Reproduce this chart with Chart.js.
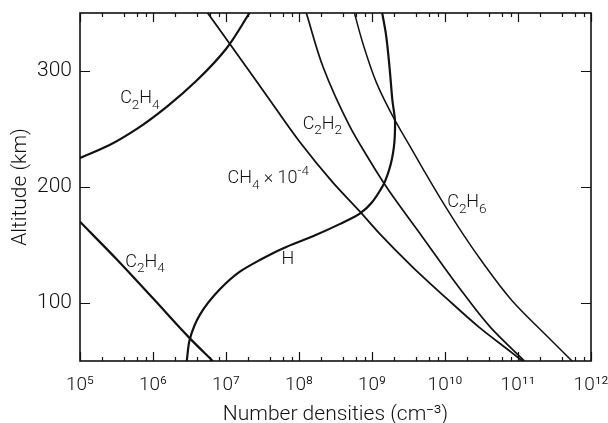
<!DOCTYPE html>
<html>
<head>
<meta charset="utf-8">
<script src="https://cdn.jsdelivr.net/npm/chart.js@4.4.1/dist/chart.umd.min.js"></script>
<style>
  body { margin: 0; background: #fff; }
  canvas { display: block; }
</style>
</head>
<body>
<canvas id="densChart" width="608" height="423"></canvas>
<script>
// Number densities vs altitude (x in cm^-3, y in km)

const FONT = 'Roboto, "Liberation Sans", sans-serif';
const INK = '#111';

// --- Data (each curve listed bottom to top) ---

const c2h4UpperN = [1.0e5, 2.5e5, 6.3e5, 1.6e6, 4.0e6, 1.0e7, 2.1e7];
const c2h4UpperAlt = [225, 236, 251, 270, 292, 319, 350];

const c2h4LowerN = [6.6e6, 3.2e6, 1.0e6, 3.2e5, 1.0e5];
const c2h4LowerAlt = [50, 69.5, 104, 137.5, 170];

const hN = [2.9e6, 3.2e6, 4.4e6, 8.3e6, 1.55e7, 2.9e7, 6.0e7, 1.55e8, 3.6e8, 6.8e8,
            1.35e9, 1.74e9, 2.0e9, 2.07e9, 1.9e9, 1.74e9, 1.55e9, 1.38e9];
const hAlt = [50, 69, 90, 112, 127, 137, 147, 157.5, 168, 177,
              199, 216, 235, 255, 275, 303, 332, 350];

const ch4N = [1.15e11, 8.3e10, 2.95e10, 1.05e10, 3.6e9, 1.26e9, 6.8e8, 2.9e8, 1.02e8, 3.5e7, 1.17e7, 5.6e6];
const ch4Alt = [50, 57, 79, 104, 131, 160, 179, 204, 239, 280, 322, 350];

const c2h2N = [1.23e11, 4.2e10, 1.45e10, 4.9e9, 2.2e9, 1.4e9, 8.3e8, 4.9e8, 2.15e8, 1.26e8];
const c2h2Alt = [50, 79, 116, 157, 187, 205, 228, 253, 303, 350];

const c2h6N = [5.5e11, 2.45e11, 8.3e10, 2.95e10, 1.74e10, 8.7e9, 4.9e9, 2.8e9, 2.04e9, 1.15e9, 7.4e8, 5.75e8];
const c2h6Alt = [50, 72, 102, 139, 160, 190, 216.5, 243, 258, 290, 325, 350];

const xTickExps = [5, 6, 7, 8, 9, 10, 11, 12];
const yTicks = [100, 200, 300];

// curve labels: {} = subscript, [] = superscript; position = left edge / baseline
const curveLabels = [
    { text: 'C{2}H{4}', n: 10 ** 5.55, alt: 272 },
    { text: 'C{2}H{4}', n: 10 ** 5.62, alt: 131.4 },
    { text: 'H', n: 10 ** 7.76, alt: 133.2 },
    { text: 'CH{4} × 10[-4]', n: 10 ** 7.02, alt: 203.4 },
    { text: 'C{2}H{2}', n: 10 ** 8.05, alt: 250.3 },
    { text: 'C{2}H{6}', n: 10 ** 10.03, alt: 182.6 }
];

// --- Helpers ---

const SUP = { '0': '⁰', '1': '¹', '2': '²', '3': '³', '4': '⁴', '5': '⁵',
              '6': '⁶', '7': '⁷', '8': '⁸', '9': '⁹', '-': '⁻' };
const toSup = (s) => String(s).split('').map(c => SUP[c]).join('');

function series(xs, ys, width) {
    return {
        data: xs.map((x, i) => ({ x: x, y: ys[i] })),
        showLine: true,
        borderColor: INK,
        borderWidth: width,
        pointRadius: 0,
        cubicInterpolationMode: 'monotone',
        fill: false
    };
}

function drawRich(ctx, text, x, y, size) {
    const re = /\{([^}]*)\}|\[([^\]]*)\]|([^{\[]+)/g;
    let m;
    while ((m = re.exec(text)) !== null) {
        let str, dy = 0, fs = size;
        if (m[1] !== undefined) { str = m[1]; dy = size * 0.32; fs = size * 0.75; }
        else if (m[2] !== undefined) { str = m[2]; dy = -size * 0.45; fs = size * 0.75; }
        else { str = m[3]; }
        ctx.font = `300 ${fs}px ${FONT}`;
        ctx.fillText(str, x, y + dy);
        x += ctx.measureText(str).width;
    }
}

// --- Frame, inward ticks and curve labels ---

const framePlugin = {
    id: 'frame',
    afterDatasetsDraw(chart) {
        const { ctx, chartArea: a, scales: { x, y } } = chart;
        ctx.save();
        ctx.strokeStyle = INK;
        ctx.lineWidth = 1.6;
        ctx.strokeRect(a.left, a.top, a.right - a.left, a.bottom - a.top);

        ctx.lineWidth = 1.2;
        ctx.beginPath();
        for (let e = 5; e <= 12; e++) {
            for (const m of [1, 2, 4, 6, 8]) {
                if (e === 12 && m > 1) continue;
                const px = Math.round(x.getPixelForValue(m * 10 ** e)) + 0.5;
                const len = m === 1 ? 9 : 4;
                ctx.moveTo(px, a.bottom); ctx.lineTo(px, a.bottom - len);
                ctx.moveTo(px, a.top); ctx.lineTo(px, a.top + len);
            }
        }
        for (const v of yTicks) {
            const py = Math.round(y.getPixelForValue(v)) + 0.5;
            ctx.moveTo(a.left, py); ctx.lineTo(a.left + 10, py);
            ctx.moveTo(a.right, py); ctx.lineTo(a.right - 10, py);
        }
        ctx.stroke();

        ctx.fillStyle = INK;
        ctx.textBaseline = 'alphabetic';
        ctx.textAlign = 'left';
        for (const lb of curveLabels) {
            drawRich(ctx, lb.text, x.getPixelForValue(lb.n), y.getPixelForValue(lb.alt), 18);
        }
        ctx.restore();
    }
};

// --- Chart ---

const titleFont = { family: FONT, size: 21, weight: 300 };

new Chart(document.getElementById('densChart'), {
    type: 'scatter',
    data: {
        datasets: [
            series(c2h4UpperN, c2h4UpperAlt, 2.2),
            series(c2h4LowerN, c2h4LowerAlt, 2.2),
            series(hN, hAlt, 2.2),
            series(ch4N, ch4Alt, 1.8),
            series(c2h2N, c2h2Alt, 1.7),
            series(c2h6N, c2h6Alt, 1.5)
        ]
    },
    options: {
        responsive: false,
        animation: false,
        indexAxis: 'y',
        layout: { padding: { top: 13, right: 17, left: 0, bottom: 0 } },
        plugins: { legend: { display: false }, tooltip: { enabled: false } },
        scales: {
            x: {
                type: 'logarithmic',
                min: 1e5,
                max: 1e12,
                grid: { display: false, drawTicks: false },
                border: { display: false },
                afterBuildTicks: (s) => { s.ticks = xTickExps.map(e => ({ value: 10 ** e })); },
                afterFit: (s) => { s.height = 62; s.paddingLeft = 0; s.paddingRight = 0; },
                ticks: {
                    autoSkip: false,
                    maxRotation: 0,
                    padding: 13,
                    color: INK,
                    font: { family: FONT, size: 19, weight: 300 },
                    callback: (v) => '10' + toSup(Math.round(Math.log10(v)))
                },
                title: {
                    display: true,
                    text: 'Number densities (cm⁻³)',
                    color: INK,
                    font: titleFont,
                    padding: { top: 0, bottom: -4 }
                }
            },
            y: {
                type: 'linear',
                min: 50,
                max: 350,
                grid: { display: false, drawTicks: false },
                border: { display: false },
                afterBuildTicks: (s) => { s.ticks = yTicks.map(v => ({ value: v })); },
                afterFit: (s) => { s.width = 80; s.paddingTop = 0; s.paddingBottom = 0; },
                ticks: { padding: 8, color: INK, font: { family: FONT, size: 21, weight: 300 } },
                title: {
                    display: true,
                    text: 'Altitude (km)',
                    color: INK,
                    font: titleFont,
                    padding: { top: 8, bottom: 0 }
                }
            }
        }
    },
    plugins: [framePlugin]
});
</script>
</body>
</html>
